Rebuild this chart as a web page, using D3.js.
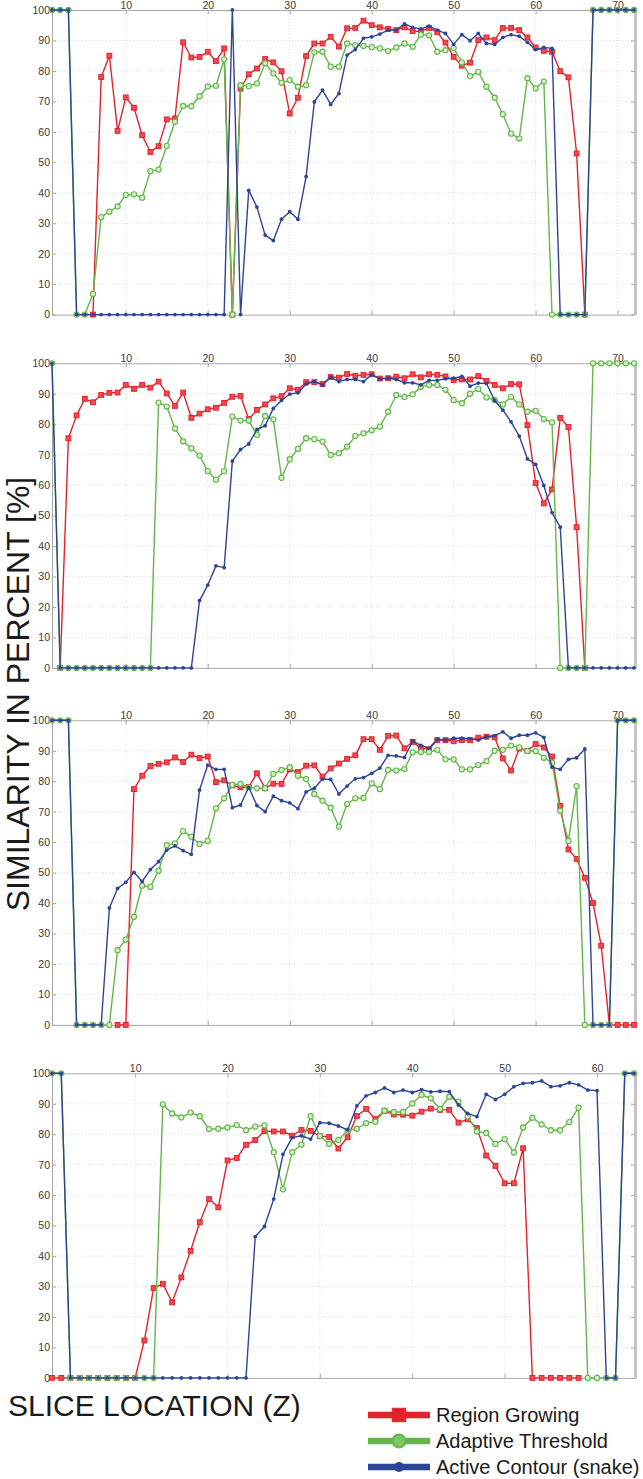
<!DOCTYPE html>
<html>
<head>
<meta charset="utf-8">
<script src="https://cdn.jsdelivr.net/npm/d3@7"></script>
<style>
  body { margin: 0; background: #fff; }
  svg { display: block; }
  text { font-family: "Liberation Sans", Arial, sans-serif; }
</style>
</head>
<body>
<svg id="chart" width="643" height="1479"></svg>
<script>
'use strict';

var yTicks = [0, 10, 20, 30, 40, 50, 60, 70, 80, 90, 100];
var xTicksLong = [10, 20, 30, 40, 50, 60, 70];
var xTicksShort = [10, 20, 30, 40, 50, 60];
var seriesNames = ['Region Growing', 'Adaptive Threshold', 'Active Contour (snake)'];

// panel 1 (slices 1..72), null = not plotted
var p1Region = [
  null, null, null, null, null, 0, 78, 85, 60.3, 71.3,
  67.9, 58.9, 53.4, 55.3, 64.1, 64.4, 89.4, 84.4, 84.6, 86.3,
  83.2, 87.4, 0, 74.2, 78.9, 80.8, 83.9, 82.8, 79.9, 66,
  71.2, 84.9, 89, 89, 91.2, 88, 94, 94.1, 96.5, 95,
  94.3, 93.8, 93.4, 94.3, 93.1, 92.9, 94.1, 92.7, 89.3, 84.6,
  81.7, 82.7, 90.1, 91, 90.1, 94.1, 94.1, 93.4, 91, 87.7,
  86.6, 86.3, 79.9, 77.9, 52.9, 0, null, null, null, null,
  null, null
];
var p1Adaptive = [
  100, 100, 100, 0, 0, 6.8, 32, 33.8, 35.5, 39.3,
  39.5, 38.4, 47.1, 47.6, 55.4, 63.3, 68.5, 68.4, 71.7, 74.9,
  75.1, 83.8, 0, 75.3, 75, 75.9, 82.5, 79.2, 76.1, 77,
  74.8, 75.3, 86.1, 86.3, 81.4, 81.4, 89, 88.5, 88.2, 87.8,
  87.4, 86.5, 87.7, 89, 87.9, 91.9, 91.7, 86.3, 86.8, 87.5,
  82.8, 78.3, 79.7, 74.8, 71.2, 65.8, 59.4, 57.8, 77.6, 74.3,
  76.5, 0, 0, 0, 0, 0, 100, 100, 100, 100,
  100, 100
];
var p1Snake = [
  100, 100, 100, 0, 0, 0, 0, 0, 0, 0,
  0, 0, 0, 0, 0, 0, 0, 0, 0, 0,
  0, 0, 100, 0, 40.8, 35.3, 26.1, 24.3, 31.3, 33.8,
  31.3, 45.3, 69.8, 73.7, 69, 72.6, 85.2, 87, 90.7, 91.2,
  92.1, 93.4, 93.4, 95.4, 94.3, 93.8, 94.7, 93.4, 92.3, 88.7,
  91.9, 89.9, 92.3, 89, 88.7, 91, 91.9, 91.4, 89.4, 87,
  87.7, 87.4, 0, 0, 0, 0, 100, 100, 100, 100,
  100, 100
];

// panel 2
var p2Region = [
  null, 0, 75.4, 82.9, 88.3, 87.2, 89.6, 90.3, 90.4, 92.9,
  91.6, 92.9, 92, 94, 90.1, 86, 90.4, 82.1, 83.5, 84.9,
  85.4, 87, 89, 89.3, 81.7, 84.7, 86.5, 88.5, 89.2, 91.8,
  91.3, 93.8, 93.8, 93.2, 95.5, 95.3, 96.5, 95.9, 96.2, 96.4,
  95, 95.1, 95.6, 95.1, 96.4, 95.4, 96.4, 96.2, 95.7, 94.5,
  94.7, 94.7, 95.8, 94.2, 92.9, 91.8, 93.2, 93.1, 79.7, 60.7,
  54, 58.6, 82.1, 79.1, 46.2, 0, null, null, null, null,
  null, null
];
var p2Adaptive = [
  100, 0, 0, 0, 0, 0, 0, 0, 0, 0,
  0, 0, 0, 87.1, 85.8, 78.6, 74.4, 72.1, 69.7, 64.6,
  61.8, 64.6, 82.5, 81.2, 81.2, 76.5, 82.7, 81.6, 62.4, 68.5,
  71.9, 75.4, 75.1, 74.3, 69.9, 70.5, 72.6, 76.1, 77, 78,
  79.2, 84.1, 89.6, 88.9, 89.8, 92.3, 92.9, 92.9, 91.3, 87.9,
  86.9, 90, 91.6, 88.8, 87.9, 86.5, 89, 86.5, 84.1, 84.4,
  81.7, 80.6, 0, 0, 0, 0, 100, 100, 100, 100,
  100, 100
];
var p2Snake = [
  100, 0, 0, 0, 0, 0, 0, 0, 0, 0,
  0, 0, 0, 0, 0, 0, 0, 0, 22.1, 27.2,
  33.5, 32.9, 67.9, 71.7, 73.5, 78.3, 79.5, 85.2, 87.8, 89.9,
  90.3, 93.2, 94, 92.9, 95.4, 94, 94.7, 94.7, 94, 96.2,
  94.9, 95.1, 94.7, 93.6, 93.6, 92.9, 94.4, 94.4, 94.9, 95.1,
  95.7, 92.5, 93.5, 93.4, 87.8, 84.6, 80.8, 76.1, 68.6, 66.8,
  59.9, 51, 46.2, 0, 0, 0, 0, 0, 0, 0,
  0, 0
];

// panel 3
var p3Region = [
  null, null, null, null, null, null, null, null, 0, 0,
  77.4, 81.8, 85, 85.7, 86.2, 87.8, 86.3, 88.7, 87.6, 88.1,
  79.7, 80.3, 78.6, 78, 78.1, 82.6, 77.7, 79.2, 79.1, 83.9,
  83, 85.1, 85.2, 81.5, 84.2, 85.8, 87.3, 88.5, 93.8, 93.8,
  90.3, 94.9, 95, 90.8, 92.9, 90.8, 90.5, 93.5, 93.5, 93.1,
  93.5, 93.5, 94.3, 94.6, 94.4, 87.5, 83.5, 90.7, 90, 92.2,
  91.1, 88.1, 71.9, 57.6, 54.5, 48.3, 40, 26, 0, 0,
  0, 0
];
var p3Adaptive = [
  100, 100, 100, 0, 0, 0, 0, 0, 24.5, 28,
  35.5, 45.7, 45.3, 50.6, 59, 59.6, 63.6, 61.8, 59.4, 60.4,
  71.1, 74.4, 78.8, 79.1, 78, 77.7, 77.7, 82.4, 83.7, 84.6,
  81.8, 80.7, 75.8, 73.6, 71.3, 65.1, 72.5, 74.4, 74.5, 79.3,
  77.4, 83.7, 83.5, 84, 89.5, 89.6, 89.6, 90.3, 87.2, 87.2,
  83.9, 83.9, 85.3, 86.6, 90, 90.3, 91.7, 91.1, 89.9, 89.9,
  87.7, 86.1, 70.3, 60.4, 78.4, 0, 0, 0, 0, 100,
  100, 100
];
var p3Snake = [
  100, 100, 100, 0, 0, 0, 0, 38.4, 44.8, 46.8,
  50.1, 47.1, 51, 53.6, 57.4, 58.8, 57.2, 56, 77.1, 85.3,
  83.9, 83.9, 71.3, 72.2, 78, 72, 70, 75.1, 73.6, 72.9,
  71, 76.5, 77.7, 80.7, 80.6, 75.8, 78.4, 80.8, 81.2, 82.6,
  84.3, 88.5, 88.3, 87.8, 93.2, 91.8, 90.8, 93.8, 93.5, 94.1,
  94.1, 94, 93.5, 94.6, 95, 96.2, 94.1, 95.1, 95.1, 95.9,
  94.4, 84.6, 83.9, 87.2, 87.7, 90.6, 0, 0, 0, 100,
  100, 100
];

// panel 4 (slices 1..64)
var p4Region = [
  0, 0, 0, 0, 0, 0, 0, 0, 0, 0,
  12.3, 29.5, 30.9, 24.8, 33, 41.7, 51.1, 58.7, 56, 71.4,
  72.2, 76.5, 78.1, 81, 80.9, 80.9, 79.5, 81.4, 81.1, 79.4,
  79.1, 75.3, 79, 86, 88.3, 85, 87.7, 86.5, 86.4, 86.1,
  87.4, 88.4, 88, 88, 83.8, 84.9, 82, 73, 69.6, 63.9,
  63.9, 75.4, 0, 0, 0, 0, 0, 0, null, null,
  null, null, null, null
];
var p4Adaptive = [
  100, 100, 0, 0, 0, 0, 0, 0, 0, 0,
  0, 0, 89.8, 86.8, 85.5, 87.1, 85.9, 81.7, 81.8, 82.2,
  83, 81.3, 82.5, 82.9, 74.1, 61.9, 74.1, 76.6, 85.9, 79.4,
  76.8, 78.1, 81.2, 81.8, 83.6, 84.1, 87.7, 87.3, 87.3, 90.1,
  92.9, 91.8, 88.3, 92.3, 90.7, 85.8, 80.9, 80.4, 76.8, 78.4,
  74, 82.2, 85.4, 83.2, 81.3, 81.3, 84, 88.7, 0, 0,
  0, 0, 100, 100
];
var p4Snake = [
  100, 100, 0, 0, 0, 0, 0, 0, 0, 0,
  0, 0, 0, 0, 0, 0, 0, 0, 0, 0,
  0, 0, 46.4, 49.7, 58.7, 73.4, 78.9, 79.5, 78.4, 83.8,
  83.6, 82.7, 81.4, 89.3, 92.6, 93.7, 95.2, 93.7, 94.5, 93.7,
  94.6, 93.9, 94.1, 94, 89.6, 86.8, 85.8, 93.1, 91.4, 93.1,
  95.6, 96.7, 96.9, 97.5, 95.6, 95.9, 96.9, 96.2, 94.5, 94.3,
  0, 0, 100, 100
];

var RED = '#e4222b';
var GREEN = '#63b649';
var BLUE = '#2d4596';

var panels = [
  {top: 10, xMax: 72, xTicks: xTicksLong, series: [p1Region, p1Adaptive, p1Snake]},
  {top: 363.3, xMax: 72, xTicks: xTicksLong, series: [p2Region, p2Adaptive, p2Snake]},
  {top: 720.3, xMax: 72, xTicks: xTicksLong, series: [p3Region, p3Adaptive, p3Snake]},
  {top: 1073.3, xMax: 64, xTicks: xTicksShort, series: [p4Region, p4Adaptive, p4Snake]}
];

var plotLeft = 52;
var plotRight = 634;
var plotH = 304.6;

var svg = d3.select('#chart');

function drawMarker(g, kind, px, py, big) {
    var s = big ? 2.8 : 1;
    if(kind === 0) {
        g.append('rect')
            .attr('x', px - 2.4 * s).attr('y', py - 2.4 * s)
            .attr('width', 4.8 * s).attr('height', 4.8 * s)
            .attr('fill', big ? RED : '#ee4a52')
            .attr('stroke', RED).attr('stroke-width', 1);
    } else if(kind === 1) {
        g.append('circle')
            .attr('cx', px).attr('cy', py).attr('r', big ? 6.5 : 2.6)
            .attr('fill', big ? '#7cc862' : '#d8efcc')
            .attr('stroke', GREEN).attr('stroke-width', big ? 2 : 1.1);
    } else {
        g.append('circle')
            .attr('cx', px).attr('cy', py).attr('r', big ? 5 : 1.9)
            .attr('fill', BLUE);
    }
}

panels.forEach(function(p) {
    var x = d3.scaleLinear().domain([1, p.xMax]).range([plotLeft, plotRight]);
    var y = d3.scaleLinear().domain([0, 100]).range([p.top + plotH, p.top]);
    var g = svg.append('g');

    // dotted grid
    g.append('g').selectAll('line.h').data(yTicks.slice(1, -1)).enter().append('line')
        .attr('x1', plotLeft).attr('x2', plotRight)
        .attr('y1', function(d) { return y(d); }).attr('y2', function(d) { return y(d); })
        .attr('stroke', '#d4d4d4').attr('stroke-width', 0.8).attr('stroke-dasharray', '1,2');
    g.append('g').selectAll('line.v').data(p.xTicks).enter().append('line')
        .attr('y1', p.top).attr('y2', p.top + plotH)
        .attr('x1', function(d) { return x(d); }).attr('x2', function(d) { return x(d); })
        .attr('stroke', '#d4d4d4').attr('stroke-width', 0.8).attr('stroke-dasharray', '1,2');

    // axes, ticks pointing inward
    var top = g.append('g').attr('transform', 'translate(0,' + p.top + ')')
        .call(d3.axisTop(x).tickValues(p.xTicks).tickSizeInner(-4).tickSizeOuter(0).tickPadding(1.5));
    var left = g.append('g').attr('transform', 'translate(' + plotLeft + ',0)')
        .call(d3.axisLeft(y).tickValues(yTicks).tickSizeInner(-4).tickSizeOuter(0).tickPadding(2));
    var bottom = g.append('g').attr('transform', 'translate(0,' + (p.top + plotH) + ')')
        .call(d3.axisBottom(x).tickValues(p.xTicks).tickSizeInner(-4).tickSizeOuter(0).tickFormat(''));
    var right = g.append('g').attr('transform', 'translate(' + (plotRight + 1) + ',0)')
        .call(d3.axisRight(y).tickValues(yTicks).tickSizeInner(-4).tickSizeOuter(0).tickFormat(''));

    [top, left, bottom, right].forEach(function(a) {
        a.select('.domain').attr('stroke', '#a8a8a8');
        a.selectAll('.tick line').attr('stroke', '#a8a8a8');
        a.selectAll('.tick text')
            .attr('fill', '#3a3a3a')
            .style('font-size', '10.5px')
            .style('font-family', '"Liberation Sans", Arial, sans-serif');
    });
    right.select('.domain').attr('stroke', '#c4c4c4').attr('stroke-width', 3);

    // series: red, then green, then blue on top
    p.series.forEach(function(vals, k) {
        var color = [RED, GREEN, BLUE][k];
        var line = d3.line()
            .defined(function(d) { return d !== null; })
            .x(function(d, i) { return x(i + 1); })
            .y(function(d) { return y(d); });
        g.append('path').datum(vals)
            .attr('fill', 'none')
            .attr('stroke', color)
            .attr('stroke-width', 1.4)
            .attr('stroke-linejoin', 'round')
            .attr('d', line);
        var mg = g.append('g');
        vals.forEach(function(v, i) {
            if(v === null) return;
            drawMarker(mg, k, x(i + 1), y(v), false);
        });
    });
});

// axis titles
svg.append('text')
    .attr('transform', 'translate(29,694) rotate(-90)')
    .attr('text-anchor', 'middle')
    .attr('fill', '#1a1a1a')
    .style('font-size', '32px')
    .text('SIMILARITY IN PERCENT [%]');

svg.append('text')
    .attr('x', 8).attr('y', 1416)
    .attr('fill', '#1a1a1a')
    .style('font-size', '30px')
    .text('SLICE LOCATION (Z)');

// legend
var legend = svg.append('g');
seriesNames.forEach(function(name, k) {
    var ly = 1415 + k * 26;
    var color = [RED, GREEN, BLUE][k];
    legend.append('line')
        .attr('x1', 368).attr('x2', 430).attr('y1', ly).attr('y2', ly)
        .attr('stroke', color).attr('stroke-width', 6.5);
    drawMarker(legend, k, 399, ly, true);
    legend.append('text')
        .attr('x', 436).attr('y', ly + 7)
        .attr('fill', '#1a1a1a')
        .style('font-size', '20px')
        .text(name);
});
</script>
</body>
</html>
